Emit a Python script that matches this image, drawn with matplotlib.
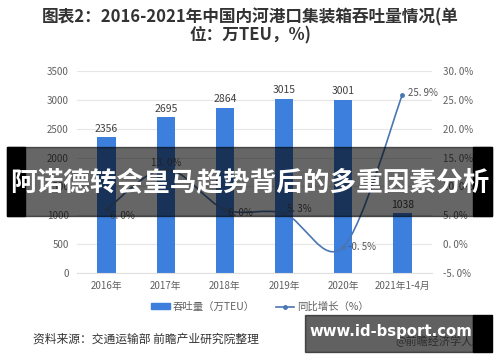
import matplotlib
matplotlib.use('Agg')
import matplotlib.pyplot as plt
from matplotlib.path import Path
from matplotlib.patches import PathPatch, Rectangle, Patch
from matplotlib.lines import Line2D

plt.rcParams['font.family'] = ['Noto Sans CJK SC', 'DejaVu Sans']

# data
years = ['2016年', '2017年', '2018年', '2019年', '2020年', '2021年1-4月']
throughput = [2356, 2695, 2864, 3015, 3001, 1038]
growth = [6.0, 13.0, 6.0, 5.3, -0.5, 25.9]
growth_labels = ['6. 0%', '13. 0%', '6. 0%', '5. 3%', '-0. 5%', '25. 9%']
left_ticks = [0, 500, 1000, 1500, 2000, 2500, 3000, 3500]
right_ticks = [-5, 0, 5, 10, 15, 20, 25, 30]

bar_color = '#3d7fdc'
line_color = '#4a76b2'
tick_color = '#606060'

fig = plt.figure(figsize=(5, 3.62), dpi=100)
ax = fig.add_axes([0.154, 0.246, 0.71, 0.558])
ax2 = ax.twinx()

x = list(range(len(years)))
ax.bar(x, throughput, width=0.31, color=bar_color, zorder=2)
for xi, v in zip(x, throughput):
    ax.text(xi, v + 60, str(v), ha='center', va='bottom', fontsize=7.5, color='#404040')

ax.set_xlim(-0.5, len(years) - 0.5)
ax.set_ylim(0, 3500)
ax.set_yticks(left_ticks)
ax.set_yticklabels([str(t) for t in left_ticks])
ax.set_xticks(x)
ax.set_xticklabels(years)
ax.grid(axis='y', color='#e6e6e6', linewidth=0.8, zorder=0)
ax.set_axisbelow(True)
for s in ax.spines.values():
    s.set_visible(False)
ax.spines['bottom'].set_visible(True)
ax.spines['bottom'].set_color('#e0e0e0')
ax.tick_params(axis='both', length=0, labelsize=7, colors=tick_color, pad=6)

# smoothed growth line (Catmull-Rom through the data points)
pts = list(zip(x, growth))
verts = [pts[0]]
codes = [Path.MOVETO]
for i in range(len(pts) - 1):
    p0 = pts[i - 1] if i > 0 else pts[i]
    p1 = pts[i]
    p2 = pts[i + 1]
    p3 = pts[i + 2] if i + 2 < len(pts) else pts[i + 1]
    c1 = (p1[0] + (p2[0] - p0[0]) / 6, p1[1] + (p2[1] - p0[1]) / 6)
    c2 = (p2[0] - (p3[0] - p1[0]) / 6, p2[1] - (p3[1] - p1[1]) / 6)
    verts += [c1, c2, p2]
    codes += [Path.CURVE4, Path.CURVE4, Path.CURVE4]
ax2.add_patch(PathPatch(Path(verts, codes), fill=False, edgecolor=line_color, linewidth=1.2, zorder=3))
ax2.plot(x, growth, linestyle='none', marker='o', markersize=2.5, color=line_color, zorder=4)

offsets = [(0.05, -1.2, 'left'), (0, 1.0, 'center'), (0.05, -0.6, 'left'),
           (0.05, 0.8, 'left'), (0.08, 0.0, 'left'), (0.1, 0.2, 'left')]
for xi, g, lab, (dx, dy, ha) in zip(x, growth, growth_labels, offsets):
    ax2.text(xi + dx, g + dy, lab, ha=ha, va='center', fontsize=7, color='#555555')

ax2.set_ylim(-5, 30)
ax2.set_yticks(right_ticks)
ax2.set_yticklabels(['%d. 0%%' % t for t in right_ticks])
for s in ax2.spines.values():
    s.set_visible(False)
ax2.tick_params(axis='y', length=0, labelsize=7, colors=tick_color, pad=8)

handles = [Patch(color=bar_color), Line2D([0], [0], color=line_color, marker='o', markersize=2.5, linewidth=1.2)]
fig.legend(handles, ['吞吐量（万TEU）', '同比增长（%）'], loc='center', bbox_to_anchor=(0.52, 0.152),
           ncol=2, frameon=False, fontsize=7.5, labelcolor=tick_color, handlelength=1.8,
           handleheight=0.5, columnspacing=2.0, handletextpad=0.3)

fig.text(0.5, 0.952, '图表2：2016-2021年中国内河港口集装箱吞吐量情况(单', ha='center', va='center',
         fontsize=12, fontweight='bold', color='#333333')
fig.text(0.5, 0.903, '位：万TEU，%)', ha='center', va='center', fontsize=12, fontweight='bold', color='#333333')

fig.text(0.066, 0.064, '资料来源：交通运输部 前瞻产业研究院整理', ha='left', va='center', fontsize=8.5, color='#333333')
fig.text(0.79, 0.058, '@前瞻经济学人APP', ha='left', va='center', fontsize=8, color='#777777')

# overlay banner
fig.patches.append(Rectangle((0.014, 0.403), 0.97, 0.191, transform=fig.transFigure, color='black', alpha=0.6, zorder=10))
fig.patches.append(Rectangle((0.014, 0.403), 0.036, 0.191, transform=fig.transFigure, color='black', zorder=10))
fig.patches.append(Rectangle((0.946, 0.403), 0.038, 0.191, transform=fig.transFigure, color='black', zorder=10))
fig.text(0.5, 0.494, '阿诺德转会皇马趋势背后的多重因素分析', ha='center', va='center', fontsize=19.2,
         fontweight='bold', color='white', zorder=11)

# watermark box
fig.patches.append(Rectangle((0.61, 0.028), 0.336, 0.102, transform=fig.transFigure, color='black', alpha=0.62, zorder=10))
fig.patches.append(Rectangle((0.946, 0.028), 0.038, 0.102, transform=fig.transFigure, color='black', zorder=10))
fig.text(0.782, 0.085, 'www.id-bsport.com', ha='center', va='center', fontsize=10.7, fontweight='bold',
         color='white', family='DejaVu Sans', zorder=11)

fig.savefig('out.png', dpi=100)
